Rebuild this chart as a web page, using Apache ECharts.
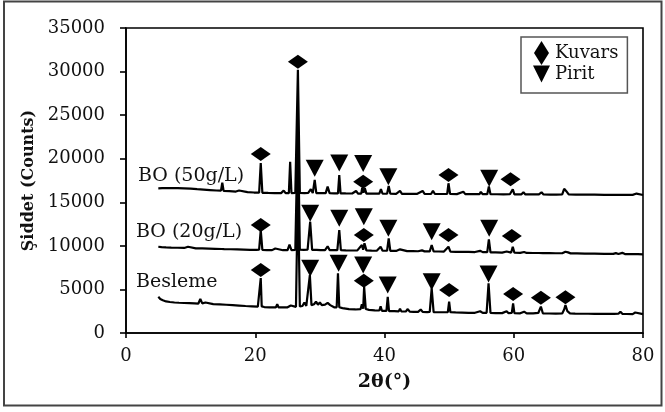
<!DOCTYPE html>
<html>
<head>
<meta charset="utf-8">
<script src="https://cdn.jsdelivr.net/npm/echarts@6/dist/echarts.min.js"></script>
<style>html,body{margin:0;padding:0;background:#fff}#c{width:665px;height:412px}</style>
</head>
<body>
<div id="c"></div>
<script>
// ---- data (2θ in degrees, intensity in counts) ----
const xTicks = [0, 20, 40, 60, 80];
const yTicks = [0, 5000, 10000, 15000, 20000, 25000, 30000, 35000];

const besleme = [
[5.0,4150],[5.3,3900],[5.7,3750],[6.2,3620],[6.8,3560],[7.5,3500],[8.2,3470],[9.0,3440],[9.8,3420],[10.6,3400],[11.2,3380],[11.5,3900],[11.8,3400],[12.3,3500],[12.6,3380],[13.5,3320],[14.5,3280],[15.5,3240],[16.5,3200],[17.5,3150],[18.5,3100],[19.5,3060],[20.4,3020],[20.7,3100],[20.85,6300],[21.0,3050],[21.4,2980],[22.2,2950],[23.2,2950],[23.4,3300],[23.6,2950],[24.3,2930],[25.0,2950],[25.5,3150],[25.8,2950],[26.3,3000],[26.6,17000],[26.9,3050],[27.3,3100],[27.6,3500],[27.9,3100],[28.2,3150],[28.45,6650],[28.7,3200],[29.1,3300],[29.4,3600],[29.7,3250],[30.0,3500],[30.3,3200],[30.8,3250],[31.2,3450],[31.6,3200],[32.2,2950],[32.6,2950],[32.8,6850],[33.0,2950],[33.5,2850],[34.5,2750],[35.5,2700],[36.3,2750],[36.5,3300],[36.7,2800],[36.85,5300],[37.1,2750],[37.6,2650],[38.5,2600],[39.2,2580],[39.4,3050],[39.6,2550],[40.3,2550],[40.5,4150],[40.7,2500],[41.5,2500],[42.2,2480],[42.4,2800],[42.6,2480],[43.3,2470],[43.6,2750],[43.9,2450],[44.5,2430],[45.2,2430],[45.6,2700],[45.9,2420],[46.6,2400],[47.0,2420],[47.3,5130],[47.6,2400],[48.3,2380],[49.2,2380],[49.8,2400],[50.0,3600],[50.2,2380],[51.0,2360],[52.0,2340],[53.0,2320],[54.0,2320],[54.8,2500],[55.2,2300],[55.8,2320],[56.1,5700],[56.4,2300],[57.2,2280],[58.2,2280],[58.9,2500],[59.2,2270],[59.7,2300],[59.9,3400],[60.1,2270],[61.0,2260],[61.6,2450],[62.0,2250],[63.0,2250],[63.8,2300],[64.2,3020],[64.5,2260],[65.5,2240],[66.5,2230],[67.5,2250],[67.8,2700],[68.0,3200],[68.3,2500],[68.7,2250],[69.5,2220],[70.5,2210],[71.5,2210],[72.5,2200],[73.5,2200],[74.5,2190],[75.5,2190],[76.2,2220],[76.5,2450],[76.8,2200],[77.5,2180],[78.4,2170],[78.8,2350],[79.1,2170],[80.0,2160]
];

const bo20 = [
[5.0,9900],[5.5,9850],[6.2,9820],[7.0,9800],[8.0,9780],[9.0,9760],[9.6,9900],[9.9,9750],[10.8,9720],[11.8,9700],[12.8,9680],[13.8,9660],[14.8,9640],[15.0,9750],[15.2,9630],[16.2,9610],[17.2,9590],[18.2,9570],[19.2,9550],[20.2,9540],[20.6,9560],[20.85,11800],[21.1,9540],[21.8,9520],[22.6,9510],[23.1,9700],[23.4,9510],[24.3,9500],[25.0,9520],[25.3,10150],[25.6,9520],[26.2,9550],[26.6,24000],[26.9,9560],[27.5,9540],[28.1,9560],[28.5,12770],[28.8,9540],[29.5,9550],[29.8,9700],[30.1,9520],[30.8,9520],[31.2,9950],[31.5,9520],[32.2,9500],[32.7,9500],[33.0,11820],[33.25,9500],[34.0,9480],[35.0,9470],[35.8,9480],[36.5,10100],[36.7,9550],[36.9,10290],[37.2,9480],[38.0,9450],[38.8,9440],[39.4,9900],[39.7,9440],[40.4,9440],[40.65,10860],[40.9,9430],[41.8,9420],[42.4,9600],[42.7,9410],[43.5,9400],[44.4,9390],[45.2,9380],[45.8,9480],[46.2,9370],[47.0,9370],[47.3,10100],[47.6,9360],[48.4,9350],[49.2,9340],[49.9,9900],[50.2,9330],[51.0,9320],[52.0,9310],[53.0,9300],[54.0,9290],[54.8,9430],[55.2,9280],[55.9,9280],[56.15,10750],[56.4,9260],[57.2,9250],[58.2,9230],[58.9,9350],[59.2,9220],[59.6,9230],[59.85,9900],[60.1,9210],[61.0,9200],[61.6,9300],[62.0,9190],[63.0,9180],[63.9,9180],[64.2,9400],[64.5,9170],[65.5,9160],[66.5,9150],[67.5,9150],[68.0,9330],[68.4,9250],[68.8,9140],[69.8,9130],[71.0,9110],[72.5,9100],[74.0,9090],[75.4,9080],[75.8,9170],[76.2,9070],[76.8,9200],[77.2,9060],[78.2,9050],[79.2,9040],[80.0,9030]
];

const bo50 = [
[5.0,16600],[5.6,16620],[6.4,16640],[7.2,16630],[8.0,16620],[9.0,16600],[10.0,16560],[11.0,16500],[12.0,16450],[13.0,16400],[14.0,16350],[14.7,16330],[14.9,17250],[15.1,16320],[16.0,16280],[17.0,16230],[17.5,16350],[17.8,16200],[18.8,16160],[19.8,16120],[20.6,16100],[20.85,19500],[21.1,16090],[22.0,16070],[23.0,16060],[24.0,16050],[24.4,16350],[24.7,16040],[25.2,16050],[25.4,19650],[25.6,16060],[26.2,16080],[26.6,30200],[26.9,16080],[27.6,16060],[28.2,16080],[28.6,16500],[28.9,16060],[29.2,17560],[29.45,16050],[30.2,16040],[30.9,16050],[31.2,16800],[31.5,16050],[32.2,16030],[32.8,16030],[33.0,18130],[33.2,16030],[34.0,16020],[35.0,16010],[35.6,16300],[35.9,16000],[36.4,16000],[36.55,16640],[36.75,16100],[36.95,16640],[37.2,16000],[38.2,15990],[39.2,15990],[39.45,16500],[39.7,15980],[40.4,15980],[40.65,16870],[40.9,15980],[41.8,15970],[42.4,16300],[42.7,15970],[43.8,15960],[45.0,15960],[45.9,16300],[46.2,15960],[47.2,15950],[47.5,16300],[47.8,15950],[48.6,15950],[49.7,15960],[49.9,17180],[50.15,15950],[51.2,15940],[52.2,16200],[52.5,15940],[53.6,15930],[54.7,15930],[54.9,16200],[55.2,15930],[55.9,15930],[56.15,16800],[56.4,15920],[57.4,15920],[58.4,15910],[59.4,15920],[59.85,16490],[60.1,15910],[61.2,15910],[61.5,16150],[61.8,15900],[62.8,15900],[63.9,15900],[64.3,16150],[64.6,15900],[65.6,15890],[66.6,15890],[67.5,15900],[67.8,16550],[68.1,16300],[68.5,15900],[69.6,15880],[71.0,15870],[72.5,15870],[74.0,15860],[75.4,15860],[75.7,16050],[76.0,15860],[77.2,15850],[78.4,15850],[79.0,16000],[79.3,15850],[80.0,15840]
];

// phase markers placed above peaks
const kuvarsMarks = [
[20.85,7230],[26.6,31130],[36.8,6000],[50.0,4930],[59.9,4480],[64.2,4050],[68.0,4090],
[20.85,12400],[36.8,11250],[49.9,11250],[59.7,11130],
[20.85,20540],[36.7,17360],[49.9,18130],[59.5,17640]
];
const piritMarks = [
[28.5,7420],[32.9,8000],[36.7,7800],[40.5,5510],[47.3,5890],[56.1,6770],
[28.5,13730],[33.0,13160],[36.8,13350],[40.6,12010],[47.3,11630],[56.2,12010],
[29.2,18900],[33.0,19500],[36.7,19450],[40.6,17940],[56.2,17750]
];

const traceLabels = ['BO (50g/L)', 'BO (20g/L)', 'Besleme'];
const legendNames = ['Kuvars', 'Pirit'];

// ---- chart ----
const FONT = '"DejaVu Serif", serif';
const chart = echarts.init(document.getElementById('c'), null, {renderer: 'canvas'});
const lineSeries = (name, data) => ({
  name, type: 'line', data, showSymbol: false, symbol: 'none', silent: true,
  lineStyle: {color: '#000', width: 2.2}, z: 2, animation: false
});
const DIAMOND_ICON = 'path://M7.5,0L15,12L7.5,24L0,12Z';
const TRI_ICON = 'path://M0,0L17,0L8.5,17Z';

chart.setOption({
  animation: false,
  backgroundColor: '#fff',
  grid: {left: 126, right: 22, top: 28, bottom: 79, show: true, borderColor: '#000', borderWidth: 1.6, containLabel: false},
  xAxis: {
    type: 'value', min: xTicks[0], max: xTicks[xTicks.length - 1], interval: 20,
    name: '2θ(°)', nameLocation: 'middle', nameGap: 40,
    nameTextStyle: {fontFamily: FONT, fontSize: 19, fontWeight: 'bold', color: '#111'},
    axisLine: {show: true, onZero: false, lineStyle: {color: '#000', width: 1.6}},
    axisTick: {show: true, inside: false, length: 5, lineStyle: {color: '#000', width: 1.6}},
    axisLabel: {fontFamily: FONT, fontSize: 18, color: '#111', margin: 14},
    splitLine: {show: false}
  },
  yAxis: {
    type: 'value', min: yTicks[0], max: yTicks[yTicks.length - 1], interval: 5000,
    name: 'Şiddet (Counts)', nameLocation: 'middle', nameGap: 85, nameRotate: 90,
    nameTextStyle: {fontFamily: FONT, fontSize: 16, fontWeight: 'bold', color: '#111'},
    axisLine: {show: true, lineStyle: {color: '#000', width: 1.6}},
    axisTick: {show: true, inside: false, length: 6, lineStyle: {color: '#000', width: 1.6}},
    axisLabel: {fontFamily: FONT, fontSize: 18, color: '#111', margin: 21, formatter: v => String(v)},
    splitLine: {show: false}
  },
  legend: {
    show: true, orient: 'vertical', left: 521, top: 37,
    padding: [4, 9, 10, 12], itemGap: 0, itemWidth: 17, itemHeight: 24,
    borderColor: '#555', borderWidth: 1.5, backgroundColor: '#fff',
    textStyle: {fontFamily: FONT, fontSize: 18, color: '#111'},
    data: [{name: legendNames[0], icon: DIAMOND_ICON}, {name: legendNames[1], icon: TRI_ICON}],
    selectedMode: false
  },
  series: [
    lineSeries(traceLabels[2], besleme),
    lineSeries(traceLabels[1], bo20),
    lineSeries(traceLabels[0], bo50),
    {name: legendNames[0], type: 'scatter', data: kuvarsMarks, symbol: 'diamond', symbolSize: [20, 14],
     symbolKeepAspect: true, itemStyle: {color: '#000', opacity: 1}, z: 5, silent: true},
    {name: legendNames[1], type: 'scatter', data: piritMarks, symbol: TRI_ICON, symbolSize: [18, 17],
     symbolKeepAspect: true, itemStyle: {color: '#000', opacity: 1}, z: 5, silent: true}
  ],
  graphic: [
    {type: 'rect', shape: {x: 4, y: 1.5, width: 657.5, height: 404}, style: {fill: 'none', stroke: '#444', lineWidth: 2}, silent: true, z: 0},
    {type: 'text', x: 138, y: 176, style: {text: traceLabels[0], font: '19px ' + FONT, fill: '#111', verticalAlign: 'middle'}, z: 10},
    {type: 'text', x: 136, y: 232, style: {text: traceLabels[1], font: '19px ' + FONT, fill: '#111', verticalAlign: 'middle'}, z: 10},
    {type: 'text', x: 136, y: 282, style: {text: traceLabels[2], font: '19px ' + FONT, fill: '#111', verticalAlign: 'middle'}, z: 10}
  ]
});
</script>
</body>
</html>
